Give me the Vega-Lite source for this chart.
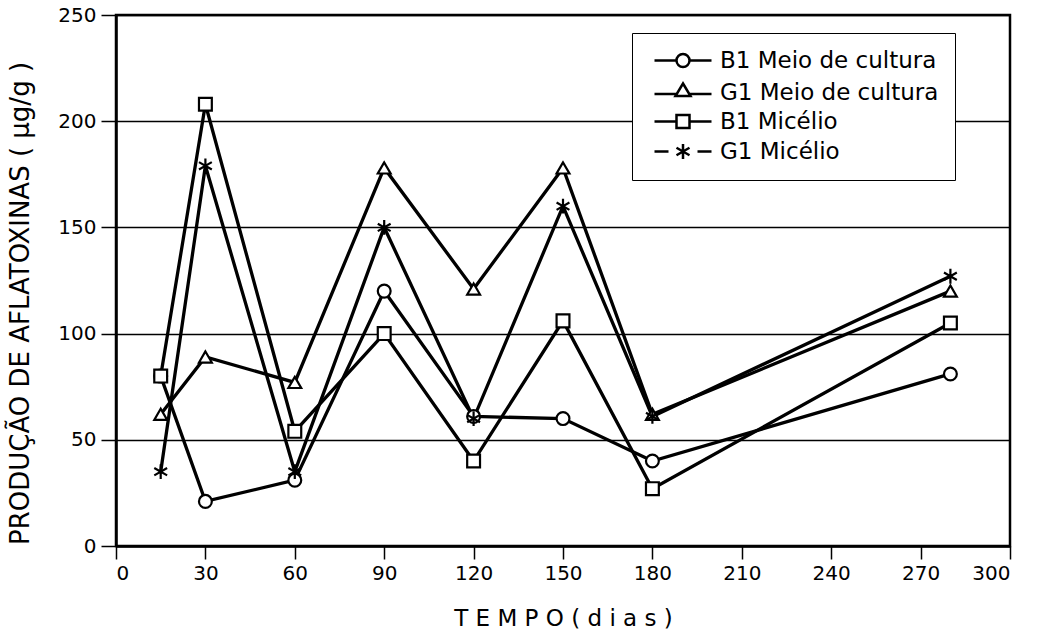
{
  "$schema": "https://vega.github.io/schema/vega-lite/v6.json",
  "width": 894,
  "height": 531,
  "autosize": {"type": "none"},
  "padding": {"left": 116, "top": 15, "right": 35, "bottom": 92},
  "background": "white",
  "config": {
    "font": "DejaVu Sans",
    "view": {"stroke": "black", "strokeWidth": 2.5},
    "axis": {
      "labelColor": "black",
      "titleColor": "black",
      "tickColor": "black",
      "domainColor": "black",
      "labelFontSize": 20,
      "titleFontSize": 23,
      "titleFontWeight": "normal",
      "domainWidth": 2.5,
      "tickWidth": 1.5
    }
  },
  "data": {
    "values": [
      {"serie": "B1 Meio de cultura", "dias": 15, "valor": 80},
      {"serie": "B1 Meio de cultura", "dias": 30, "valor": 21},
      {"serie": "B1 Meio de cultura", "dias": 60, "valor": 31},
      {"serie": "B1 Meio de cultura", "dias": 90, "valor": 120},
      {"serie": "B1 Meio de cultura", "dias": 120, "valor": 61},
      {"serie": "B1 Meio de cultura", "dias": 150, "valor": 60},
      {"serie": "B1 Meio de cultura", "dias": 180, "valor": 40},
      {"serie": "B1 Meio de cultura", "dias": 280, "valor": 81},
      {"serie": "G1 Meio de cultura", "dias": 15, "valor": 62},
      {"serie": "G1 Meio de cultura", "dias": 30, "valor": 89},
      {"serie": "G1 Meio de cultura", "dias": 60, "valor": 77},
      {"serie": "G1 Meio de cultura", "dias": 90, "valor": 178},
      {"serie": "G1 Meio de cultura", "dias": 120, "valor": 121},
      {"serie": "G1 Meio de cultura", "dias": 150, "valor": 178},
      {"serie": "G1 Meio de cultura", "dias": 180, "valor": 62},
      {"serie": "G1 Meio de cultura", "dias": 280, "valor": 120},
      {"serie": "B1 Micélio", "dias": 15, "valor": 80},
      {"serie": "B1 Micélio", "dias": 30, "valor": 208},
      {"serie": "B1 Micélio", "dias": 60, "valor": 54},
      {"serie": "B1 Micélio", "dias": 90, "valor": 100},
      {"serie": "B1 Micélio", "dias": 120, "valor": 40},
      {"serie": "B1 Micélio", "dias": 150, "valor": 106},
      {"serie": "B1 Micélio", "dias": 180, "valor": 27},
      {"serie": "B1 Micélio", "dias": 280, "valor": 105},
      {"serie": "G1 Micélio", "dias": 15, "valor": 35},
      {"serie": "G1 Micélio", "dias": 30, "valor": 179},
      {"serie": "G1 Micélio", "dias": 60, "valor": 35},
      {"serie": "G1 Micélio", "dias": 90, "valor": 150},
      {"serie": "G1 Micélio", "dias": 120, "valor": 60},
      {"serie": "G1 Micélio", "dias": 150, "valor": 160},
      {"serie": "G1 Micélio", "dias": 180, "valor": 61},
      {"serie": "G1 Micélio", "dias": 280, "valor": 127}
    ]
  },
  "encoding": {
    "x": {
      "field": "dias",
      "type": "quantitative",
      "scale": {"domain": [0, 300], "nice": false},
      "axis": {
        "values": [0, 30, 60, 90, 120, 150, 180, 210, 240, 270, 300],
        "grid": false,
        "tickSize": 13,
        "labelPadding": 4,
        "labelAngle": 0,
        "title": "T E M P O   ( d i a s )",
        "titlePadding": 24
      }
    },
    "y": {
      "field": "valor",
      "type": "quantitative",
      "scale": {"domain": [0, 250], "nice": false},
      "axis": {
        "values": [0, 50, 100, 150, 200, 250],
        "grid": true,
        "gridColor": "black",
        "gridWidth": 1.3,
        "gridOpacity": 1,
        "tickSize": 15,
        "labelPadding": 5,
        "title": "PRODUÇÃO DE AFLATOXINAS   ( μg/g )",
        "titleFontSize": 26,
        "titleY": 288,
        "titlePadding": 24
      }
    }
  },
  "layer": [
    {
      "mark": {"type": "line", "color": "black", "strokeWidth": 3.3},
      "encoding": {"detail": {"field": "serie", "type": "nominal"}}
    },
    {
      "mark": {"type": "point", "filled": true, "fill": "white", "stroke": "black", "strokeWidth": 2.2, "size": 165, "opacity": 1},
      "encoding": {
        "shape": {
          "field": "serie",
          "type": "nominal",
          "scale": {
            "domain": ["B1 Meio de cultura", "G1 Meio de cultura", "B1 Micélio", "G1 Micélio"],
            "range": ["circle", "triangle-up", "square", "M0,-1.15V1.15M-1,-0.575L1,0.575M-1,0.575L1,-0.575"]
          },
          "legend": null
        }
      }
    },
    {
      "mark": {"type": "point", "filled": false, "stroke": "black", "strokeWidth": 2.5, "size": 400, "opacity": 0},
      "encoding": {
        "shape": {
          "field": "serie",
          "type": "nominal",
          "scale": {
            "domain": ["B1 Meio de cultura", "G1 Meio de cultura", "B1 Micélio", "G1 Micélio"],
            "range": [
              "M-0.5,0H1.7M3,0H5.2M1.7,0A0.65,0.65 0 1 1 3,0A0.65,0.65 0 1 1 1.7,0Z",
              "M-0.5,0.15H1.72M2.98,0.15H5.2M2.35,-0.9L3.1,0.35L1.6,0.35Z",
              "M-0.5,0H1.7M3,0H5.2M1.7,-0.65H3V0.65H1.7Z",
              "M-0.5,0H0.9M3.8,0H5.2M2.35,-0.75V0.75M1.7,-0.375L3,0.375M1.7,0.375L3,-0.375"
            ]
          },
          "legend": {
            "title": null,
            "orient": "none",
            "legendX": 516,
            "legendY": 18,
            "symbolSize": 400,
            "symbolOpacity": 1,
            "symbolStrokeColor": "black",
            "symbolStrokeWidth": 2.5,
            "labelFontSize": 23,
            "labelColor": "black",
            "labelLimit": 400,
            "labelOffset": 49,
            "rowPadding": 5,
            "padding": 16,
            "strokeColor": "black",
            "fillColor": "white",
            "encode": {
              "legend": {"update": {"strokeWidth": {"value": 2.5}}}
            }
          }
        }
      }
    }
  ],
  "resolve": {"scale": {"shape": "independent"}, "legend": {"shape": "independent"}}
}
